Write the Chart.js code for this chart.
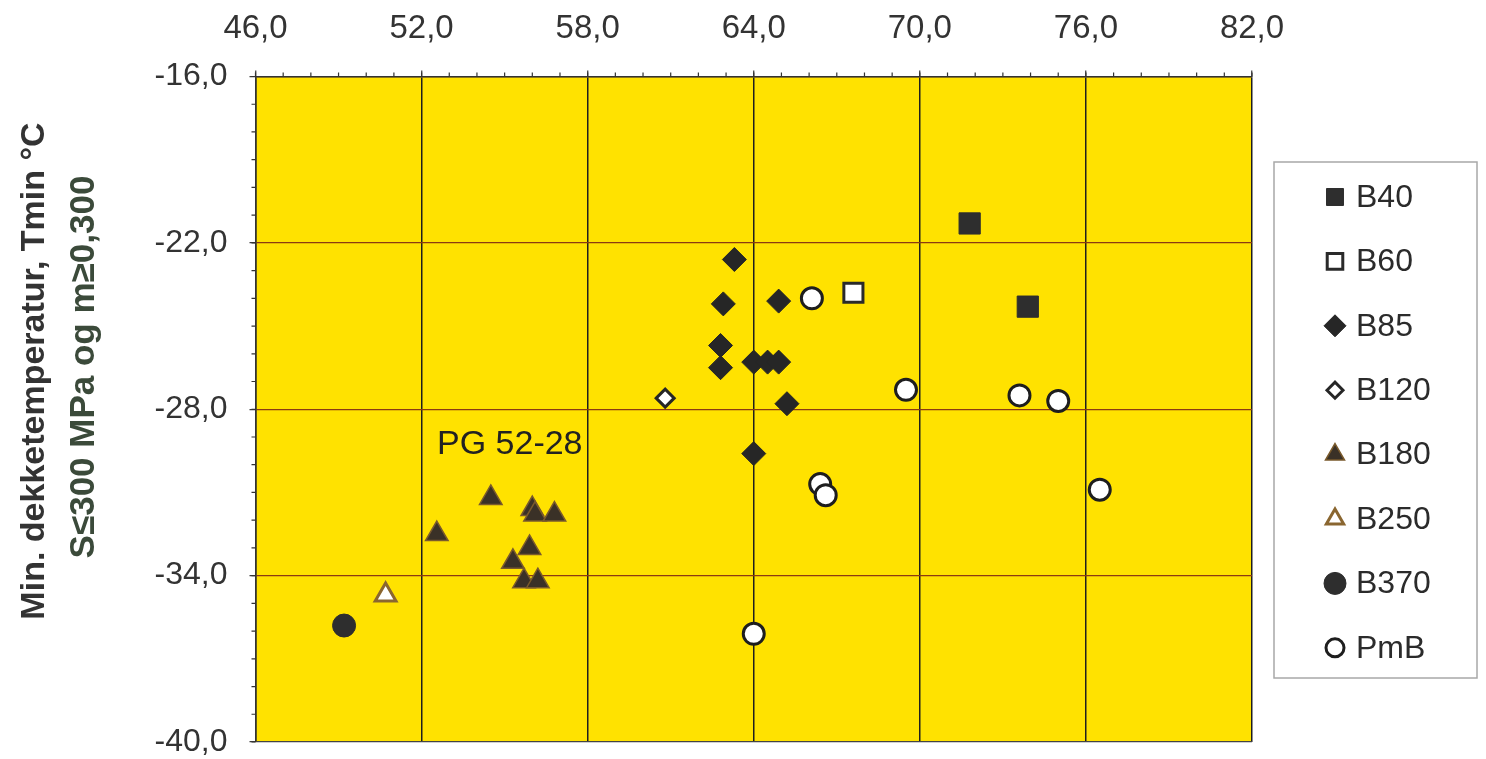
<!DOCTYPE html>
<html>
<head>
<meta charset="utf-8">
<script src="https://cdn.jsdelivr.net/npm/chart.js@4.4.0/dist/chart.umd.min.js"></script>
<style>
  html, body { margin: 0; padding: 0; background: #ffffff; }
  #wrap { width: 1486px; height: 759px; }
</style>
</head>
<body>
<div id="wrap"><canvas id="tminChart" width="1486" height="759"></canvas></div>
<script>
// values (x = softening point-ish axis, y = Tmin in degC)
const xTicks = [46, 52, 58, 64, 70, 76, 82];
const yTicks = [-40, -34, -28, -22, -16];

const b40X = [71.8, 73.9];
const b40Y = [-21.3, -24.3];
const b60X = [67.6];
const b60Y = [-23.8];
const b85X = [63.3, 62.9, 64.9, 62.8, 62.8, 64.0, 64.5, 64.9, 65.2, 64.0];
const b85Y = [-22.6, -24.2, -24.1, -25.7, -26.5, -26.3, -26.3, -26.3, -27.8, -29.6];
const b120X = [60.8];
const b120Y = [-27.6];
const b180X = [54.5, 56.0, 56.1, 56.8, 52.55, 55.9, 55.3, 55.7, 56.2];
const b180Y = [-31.2, -31.6, -31.8, -31.8, -32.5, -33.0, -33.5, -34.2, -34.2];
const b250X = [50.7];
const b250Y = [-34.7];
const b370X = [49.2];
const b370Y = [-35.8];
const pmbX = [66.1, 69.5, 73.6, 75.0, 66.4, 66.6, 76.5, 64.0];
const pmbY = [-24.0, -27.3, -27.5, -27.7, -30.7, -31.1, -30.9, -36.1];

const yTitle1 = 'Min. dekketemperatur, Tmin °C';
const yTitle2 = 'S≤300 MPa og m≥0,300';
const noteText = 'PG 52-28';

const FONT = '"Liberation Sans", Arial, Helvetica, sans-serif';

function pts(xs, ys) {
  return xs.map((x, i) => ({ x: x, y: ys[i] }));
}
function fmt(v) {
  return v.toFixed(1).replace('.', ',');
}

// yellow plot background
const plotBg = {
  id: 'plotBg',
  beforeDraw(chart) {
    const { ctx, chartArea: a } = chart;
    ctx.save();
    ctx.fillStyle = '#ffffff';
    ctx.fillRect(0, 0, chart.width, chart.height);
    ctx.fillStyle = '#FFE200';
    ctx.fillRect(a.left, a.top, a.right - a.left, a.bottom - a.top);
    ctx.restore();
  }
};

// small ticks every 1 unit on the top and left edges
const minorTicks = {
  id: 'minorTicks',
  afterDraw(chart) {
    const { ctx, chartArea: a } = chart;
    const xs = chart.scales.x, ys = chart.scales.y;
    ctx.save();
    ctx.strokeStyle = '#333';
    ctx.lineWidth = 1.2;
    ctx.beginPath();
    for (let v = xs.min; v <= xs.max; v++) {
      const px = xs.getPixelForValue(v);
      ctx.moveTo(px, a.top);
      ctx.lineTo(px, a.top - 4);
    }
    for (let v = ys.min; v <= ys.max; v++) {
      const py = ys.getPixelForValue(v);
      ctx.moveTo(a.left, py);
      ctx.lineTo(a.left - 4, py);
    }
    ctx.stroke();
    ctx.restore();
  }
};

// axis title, note and boxed legend
const extras = {
  id: 'extras',
  afterDraw(chart) {
    const ctx = chart.ctx;
    ctx.save();
    ctx.font = 'bold 34px ' + FONT;
    ctx.textAlign = 'center';
    ctx.textBaseline = 'alphabetic';
    ctx.translate(44, 371);
    ctx.rotate(-Math.PI / 2);
    ctx.fillStyle = '#333333';
    ctx.fillText(yTitle1, 0, 0);
    ctx.restore();

    ctx.save();
    ctx.font = 'bold 35px ' + FONT;
    ctx.textAlign = 'center';
    ctx.textBaseline = 'alphabetic';
    ctx.translate(94, 367);
    ctx.rotate(-Math.PI / 2);
    ctx.fillStyle = '#3b4a3a';
    ctx.fillText(yTitle2, 0, 0);
    ctx.restore();

    ctx.save();
    ctx.font = '34px ' + FONT;
    ctx.fillStyle = '#222';
    ctx.textAlign = 'left';
    ctx.textBaseline = 'middle';
    ctx.fillText(noteText, 437, 445);
    ctx.restore();

    // legend box
    ctx.save();
    ctx.strokeStyle = '#a8a8a8';
    ctx.lineWidth = 1.5;
    ctx.strokeRect(1274, 162, 203, 516);
    ctx.font = '32px ' + FONT;
    ctx.textAlign = 'left';
    ctx.textBaseline = 'middle';
    chart.data.datasets.forEach((ds, i) => {
      const y = 197 + i * 64.4;
      ctx.fillStyle = ds.backgroundColor;
      ctx.strokeStyle = ds.borderColor;
      ctx.lineWidth = ds.borderWidth;
      Chart.helpers.drawPoint(ctx, {
        pointStyle: ds.pointStyle,
        radius: ds.legendRadius,
        rotation: 0,
        borderWidth: ds.borderWidth
      }, 1335, y);
      ctx.fillStyle = '#2b2b2b';
      ctx.fillText(ds.label, 1356, y + 1);
    });
    ctx.restore();
  }
};

const ctx1 = document.getElementById('tminChart').getContext('2d');
new Chart(ctx1, {
  type: 'scatter',
  data: {
    datasets: [
      { label: 'B40', data: pts(b40X, b40Y), pointStyle: 'rect', pointRadius: 15, legendRadius: 12,
        backgroundColor: '#2e2e2e', borderColor: '#2e2e2e', borderWidth: 1 },
      { label: 'B60', data: pts(b60X, b60Y), pointStyle: 'rect', pointRadius: 13.5, legendRadius: 11,
        backgroundColor: '#ffffff', borderColor: '#2a2a2a', borderWidth: 3 },
      { label: 'B85', data: pts(b85X, b85Y), pointStyle: 'rectRot', pointRadius: 12, legendRadius: 11,
        backgroundColor: '#262626', borderColor: '#262626', borderWidth: 1 },
      { label: 'B120', data: pts(b120X, b120Y), pointStyle: 'rectRot', pointRadius: 9, legendRadius: 8,
        backgroundColor: '#ffffff', borderColor: '#262626', borderWidth: 3 },
      { label: 'B180', data: pts(b180X, b180Y), pointStyle: 'triangle', pointRadius: 13, legendRadius: 11,
        backgroundColor: '#3a3127', borderColor: '#7a5a2c', borderWidth: 1.5 },
      { label: 'B250', data: pts(b250X, b250Y), pointStyle: 'triangle', pointRadius: 12, legendRadius: 10,
        backgroundColor: '#ffffff', borderColor: '#8a6630', borderWidth: 3 },
      { label: 'B370', data: pts(b370X, b370Y), pointStyle: 'circle', pointRadius: 11.5, legendRadius: 11,
        backgroundColor: '#2e2e2e', borderColor: '#2e2e2e', borderWidth: 1 },
      { label: 'PmB', data: pts(pmbX, pmbY), pointStyle: 'circle', pointRadius: 10.5, legendRadius: 9,
        backgroundColor: '#ffffff', borderColor: '#1e1e1e', borderWidth: 3 }
    ]
  },
  options: {
    responsive: false,
    animation: false,
    events: [],
    layout: { padding: { left: 0, right: 234, top: 0, bottom: 17 } },
    plugins: {
      legend: { display: false },
      tooltip: { enabled: false }
    },
    scales: {
      x: {
        type: 'linear',
        position: 'top',
        min: xTicks[0],
        max: xTicks[xTicks.length - 1],
        afterBuildTicks: s => { s.ticks = xTicks.map(v => ({ value: v })); },
        afterFit: s => { s.height = 76.5; s.paddingLeft = 0; s.paddingRight = 0; },
        ticks: {
          callback: v => fmt(v),
          color: '#333',
          font: { family: FONT, size: 33 },
          padding: 22,
          maxRotation: 0,
          autoSkip: false
        },
        grid: { color: '#1e1e1e', lineWidth: 1.5, tickLength: 6, tickColor: '#333', tickWidth: 1.2 },
        border: { display: true, color: '#333', width: 1.5 }
      },
      y: {
        type: 'linear',
        position: 'left',
        min: yTicks[0],
        max: yTicks[yTicks.length - 1],
        afterBuildTicks: s => { s.ticks = yTicks.map(v => ({ value: v })); },
        afterFit: s => { s.width = 255.5; s.paddingTop = 0; s.paddingBottom = 0; },
        ticks: {
          callback: v => fmt(v),
          color: '#333',
          font: { family: FONT, size: 32 },
          padding: 22,
          autoSkip: false
        },
        grid: {
          color: c => (c.tick && c.tick.value === yTicks[0]) ? '#444' : '#8b3a12',
          lineWidth: 1.3, tickLength: 6, tickColor: '#333', tickWidth: 1.2
        },
        border: { display: true, color: '#333', width: 1.5 }
      }
    }
  },
  plugins: [plotBg, minorTicks, extras]
});
</script>
</body>
</html>
